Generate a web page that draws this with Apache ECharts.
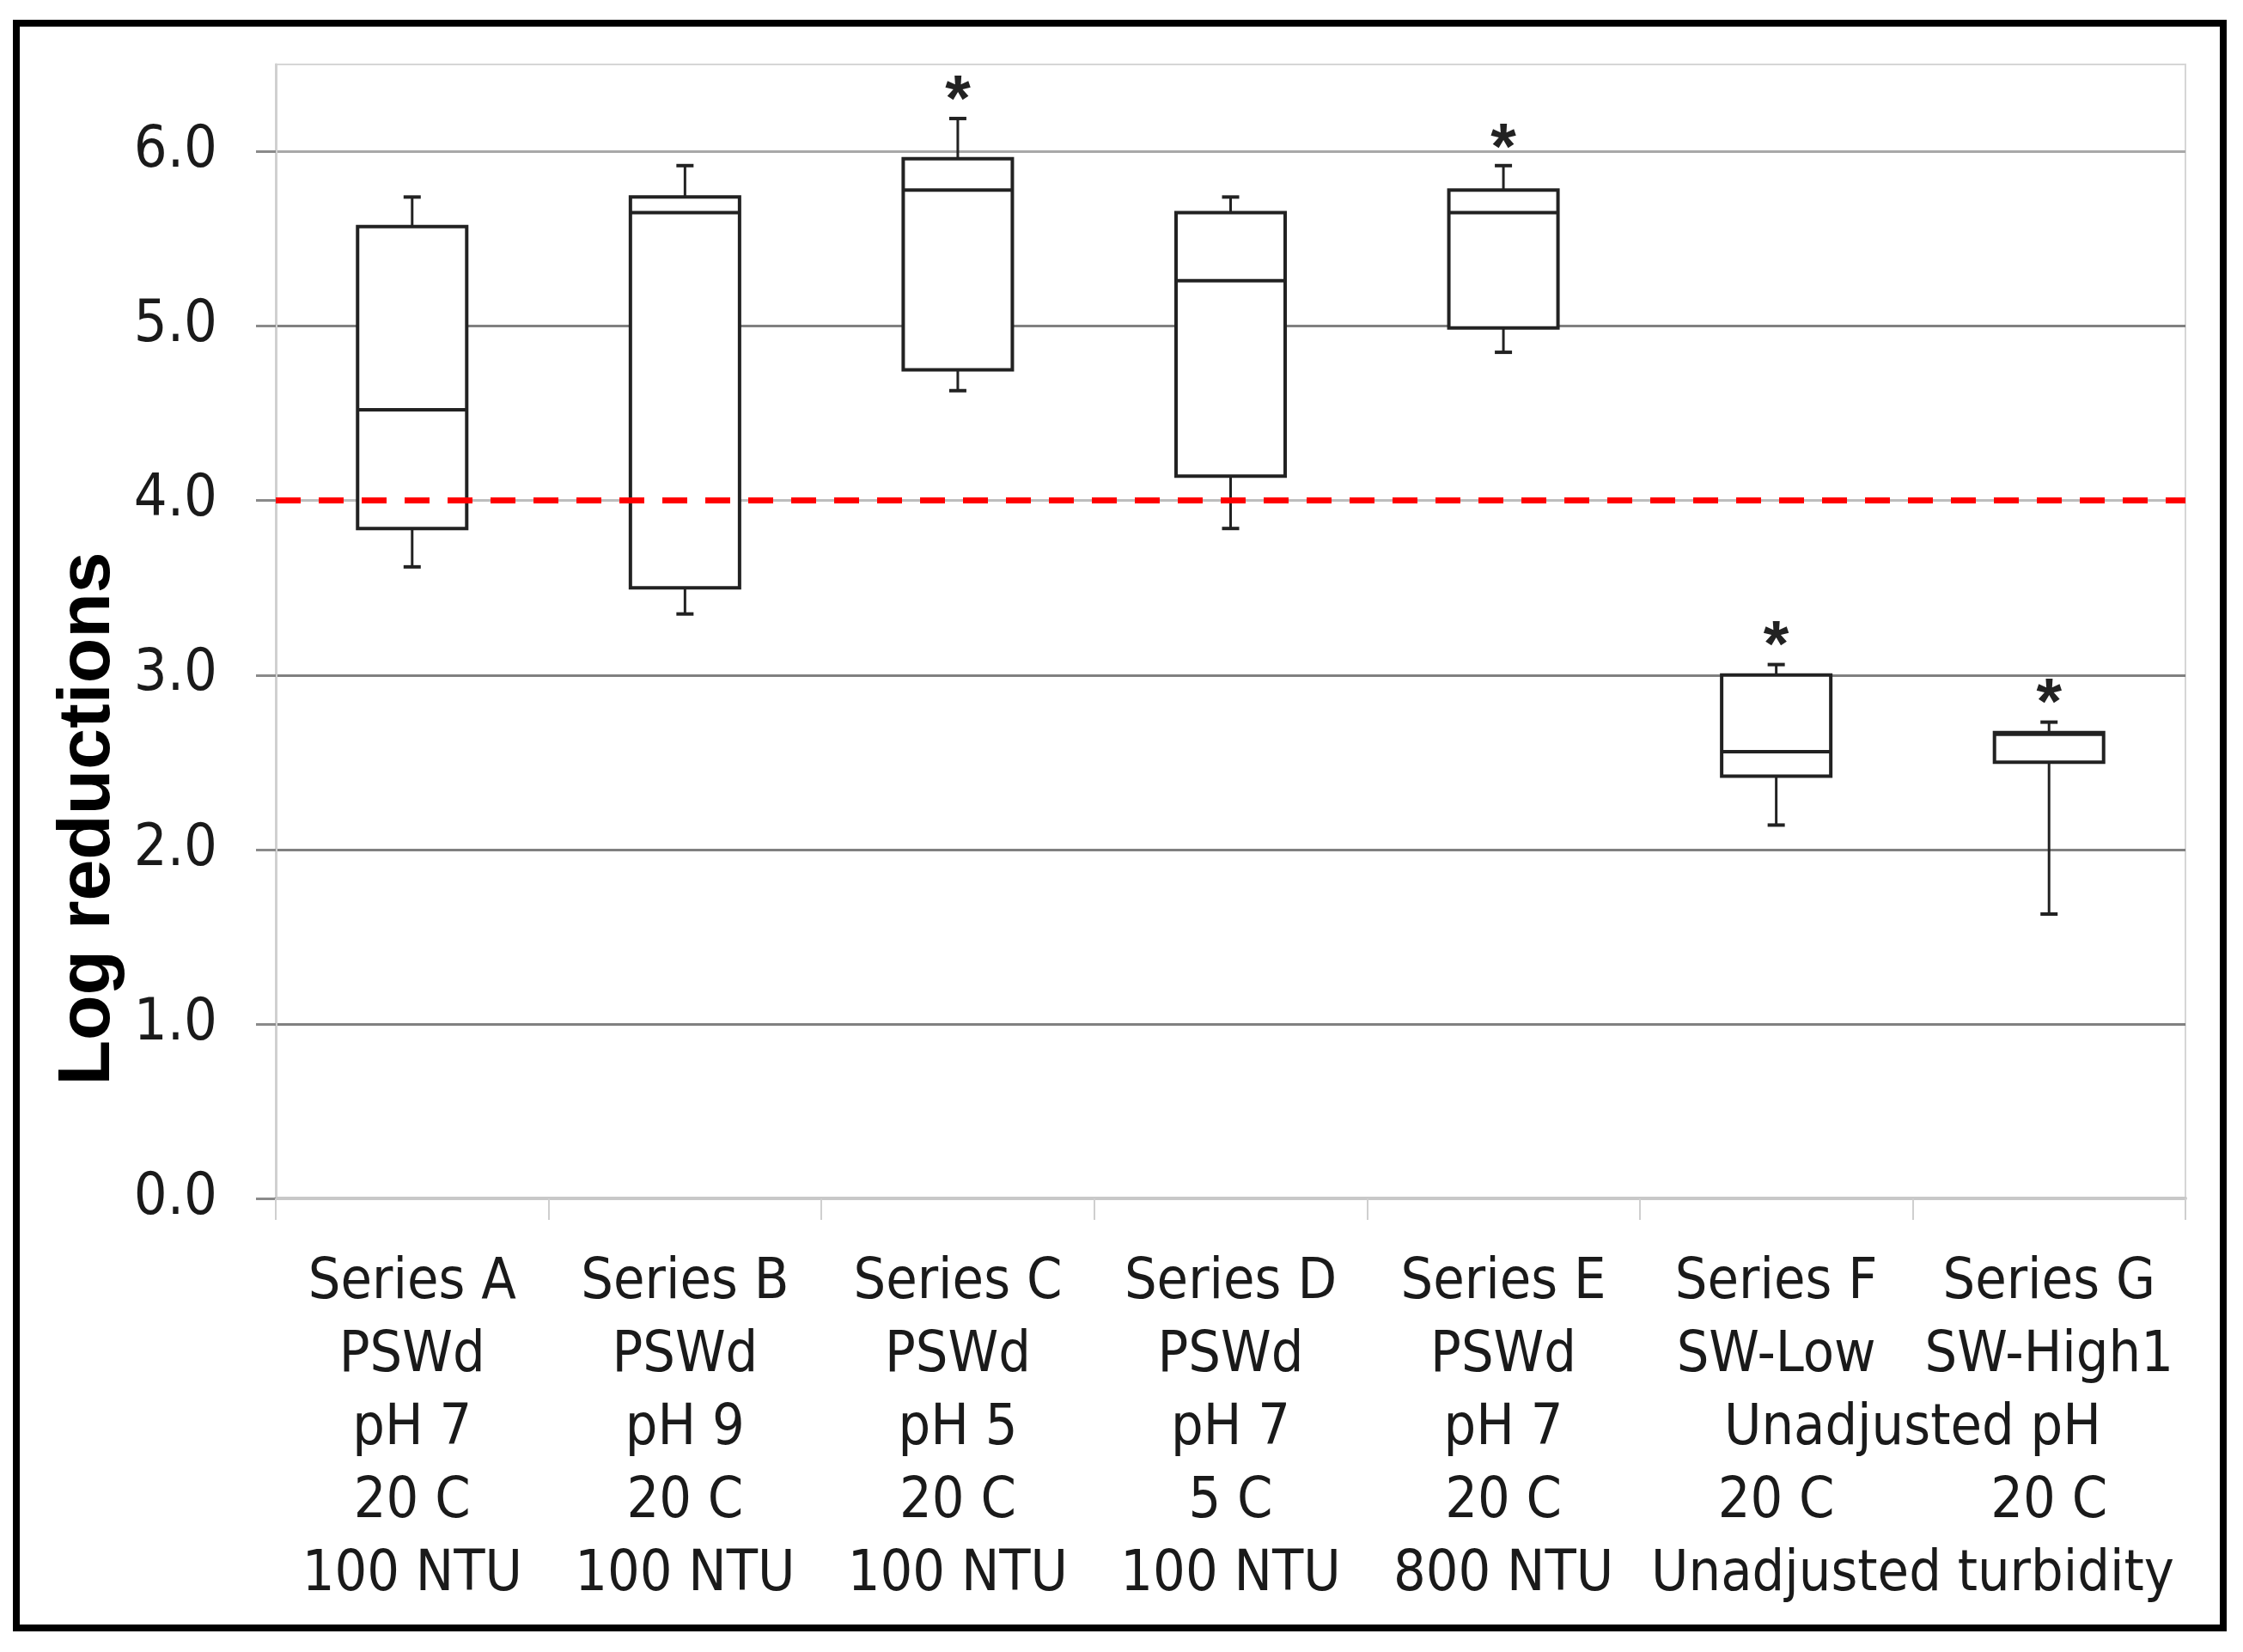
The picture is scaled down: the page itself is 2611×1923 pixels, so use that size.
<!DOCTYPE html>
<html>
<head>
<meta charset="utf-8">
<title>Log reductions</title>
<script src="https://cdn.jsdelivr.net/npm/echarts@6/dist/echarts.min.js"></script>
<style>
  html, body { margin: 0; padding: 0; background: #fff; }
  #chart { width: 2611px; height: 1923px; }
</style>
</head>
<body>
<div id="chart"></div>
<script>
// categories and label lines under the axis
var categories = ['Series A', 'Series B', 'Series C', 'Series D', 'Series E', 'Series F', 'Series G'];
var waterType = ['PSWd', 'PSWd', 'PSWd', 'PSWd', 'PSWd', 'SW-Low', 'SW-High1'];
var phLevel = ['pH 7', 'pH 9', 'pH 5', 'pH 7', 'pH 7', '', ''];
var temperature = ['20 C', '20 C', '20 C', '5 C', '20 C', '20 C', '20 C'];
var turbidity = ['100 NTU', '100 NTU', '100 NTU', '100 NTU', '800 NTU', '', ''];
// text shared by Series F and G (centred on their boundary)
var sharedPh = 'Unadjusted pH';
var sharedTurbidity = 'Unadjusted turbidity';

// box values (log reductions)
var whiskerLow = [3.62, 3.35, 4.63, 3.84, 4.85, 2.14, 1.63];
var quartile1 = [3.84, 3.50, 4.75, 4.14, 4.99, 2.42, 2.50];
var median = [4.52, 5.65, 5.78, 5.26, 5.65, 2.56, 2.66];
var quartile3 = [5.57, 5.74, 5.96, 5.65, 5.78, 3.00, 2.67];
var whiskerHigh = [5.74, 5.92, 6.19, 5.74, 5.92, 3.06, 2.73];
var asteriskAt = [null, null, 6.36, null, 6.08, 3.23, 2.90];

// y axis
var yTicks = [0, 1, 2, 3, 4, 5, 6];
var yMax = 6.5;
var targetLog = 4.0;

var textFont = "'Liberation Sans Narrow', 'DejaVu Sans Condensed', 'Open Sans', sans-serif";

var boxData = categories.map(function (c, i) {
  return [i, whiskerLow[i], quartile1[i], median[i], quartile3[i], whiskerHigh[i]];
});
var starData = [];
asteriskAt.forEach(function (v, i) {
  if (v !== null) starData.push([i, v]);
});

function renderBox(params, api) {
  var idx = api.value(0);
  var low = api.coord([idx, api.value(1)]);
  var q1 = api.coord([idx, api.value(2)]);
  var med = api.coord([idx, api.value(3)]);
  var q3 = api.coord([idx, api.value(4)]);
  var high = api.coord([idx, api.value(5)]);
  var half = api.size([1, 0])[0] * 0.2;
  var cap = 10;
  var x = med[0];
  var stroke = {stroke: '#222', lineWidth: 4, fill: null};
  return {
    type: 'group',
    children: [
      {type: 'line', shape: {x1: x, y1: high[1], x2: x, y2: q3[1]}, style: {stroke: '#222', lineWidth: 3}},
      {type: 'line', shape: {x1: x, y1: q1[1], x2: x, y2: low[1]}, style: {stroke: '#222', lineWidth: 3}},
      {type: 'line', shape: {x1: x - cap, y1: high[1], x2: x + cap, y2: high[1]}, style: stroke},
      {type: 'line', shape: {x1: x - cap, y1: low[1], x2: x + cap, y2: low[1]}, style: stroke},
      {type: 'rect', shape: {x: x - half, y: q3[1], width: half * 2, height: q1[1] - q3[1]},
        style: {stroke: '#222', lineWidth: 4, fill: '#fff'}},
      {type: 'line', shape: {x1: x - half, y1: med[1], x2: x + half, y2: med[1]}, style: stroke}
    ]
  };
}

function renderStar(params, api) {
  var p = api.coord([api.value(0), api.value(1)]);
  var size = 76;
  return {
    type: 'text',
    x: p[0],
    y: p[1] + size * 0.2,
    style: {
      text: '*', fontSize: size, fontWeight: 'bold', fontFamily: 'Liberation Sans, Arial, sans-serif',
      fill: '#222', align: 'center', verticalAlign: 'middle'
    }
  };
}

// per line colours: 0, 1 ... 6, and the top edge at 6.5
var gridColors = ['#d0d0d0', '#808080', '#808080', '#808080', '#bdbdbd', '#808080', '#a8a8a8', '#d6d6d6'];

var chart = echarts.init(document.getElementById('chart'));
var option = {
  backgroundColor: '#fff',
  animation: false,
  grid: {left: 321, right: 67, top: 75, bottom: 528, show: true, borderColor: '#d6d6d6', borderWidth: 2},
  xAxis: [{
    type: 'category',
    data: categories,
    axisLine: {lineStyle: {color: '#c8c8c8', width: 4}},
    axisTick: {show: true, interval: 0, length: 25, lineStyle: {color: '#cfcfcf', width: 2}},
    axisLabel: {
      interval: 0, margin: 56, lineHeight: 85, fontSize: 66, color: '#1a1a1a', fontFamily: textFont,
      formatter: function (v, i) {
        return [v, waterType[i], phLevel[i] || ' ', temperature[i], turbidity[i] || ' '].join('\n');
      }
    },
    splitLine: {show: false}
  }, {
    type: 'value',
    position: 'bottom',
    min: 0,
    max: categories.length,
    interval: 1,
    axisLine: {show: false},
    axisTick: {show: false},
    splitLine: {show: false},
    axisLabel: {
      margin: 56, lineHeight: 85, fontSize: 66, color: '#1a1a1a', fontFamily: textFont,
      formatter: function (v) {
        return v === 6 ? [' ', ' ', sharedPh, ' ', sharedTurbidity].join('\n') : '';
      }
    }
  }],
  yAxis: {
    type: 'value',
    min: 0,
    max: yMax,
    interval: 1,
    axisLine: {show: true, lineStyle: {color: '#d0d0d0', width: 3}},
    axisTick: {show: true, length: 23, customValues: yTicks, lineStyle: {color: '#8a8a8a', width: 3}},
    axisLabel: {
      margin: 68, fontSize: 68, color: '#1a1a1a', fontFamily: textFont,
      formatter: function (v) {
        return yTicks.indexOf(v) >= 0 ? v.toFixed(1) : '';
      }
    },
    splitLine: {show: true, lineStyle: {color: gridColors, width: 3}}
  },
  series: [{
    type: 'custom',
    name: 'boxes',
    renderItem: renderBox,
    encode: {x: 0, y: [1, 2, 3, 4, 5]},
    data: boxData,
    z: 3,
    markLine: {
      silent: true,
      symbol: 'none',
      label: {show: false},
      lineStyle: {color: '#ff0000', type: [29, 21], width: 7},
      data: [{yAxis: targetLog}]
    }
  }, {
    type: 'custom',
    name: 'stars',
    renderItem: renderStar,
    encode: {x: 0, y: 1},
    data: starData,
    z: 4
  }],
  graphic: [{
    type: 'rect',
    shape: {x: 19, y: 27, width: 2569, height: 1868},
    style: {fill: null, stroke: '#000', lineWidth: 8},
    silent: true
  }, {
    type: 'text',
    x: 103,
    y: 953,
    rotation: Math.PI / 2,
    style: {
      text: 'Log reductions', fontSize: 86, fontWeight: 'bold',
      fontFamily: "'Liberation Sans', Arial, sans-serif", fill: '#000',
      align: 'center', verticalAlign: 'middle'
    }
  }]
};
chart.setOption(option);
</script>
</body>
</html>
